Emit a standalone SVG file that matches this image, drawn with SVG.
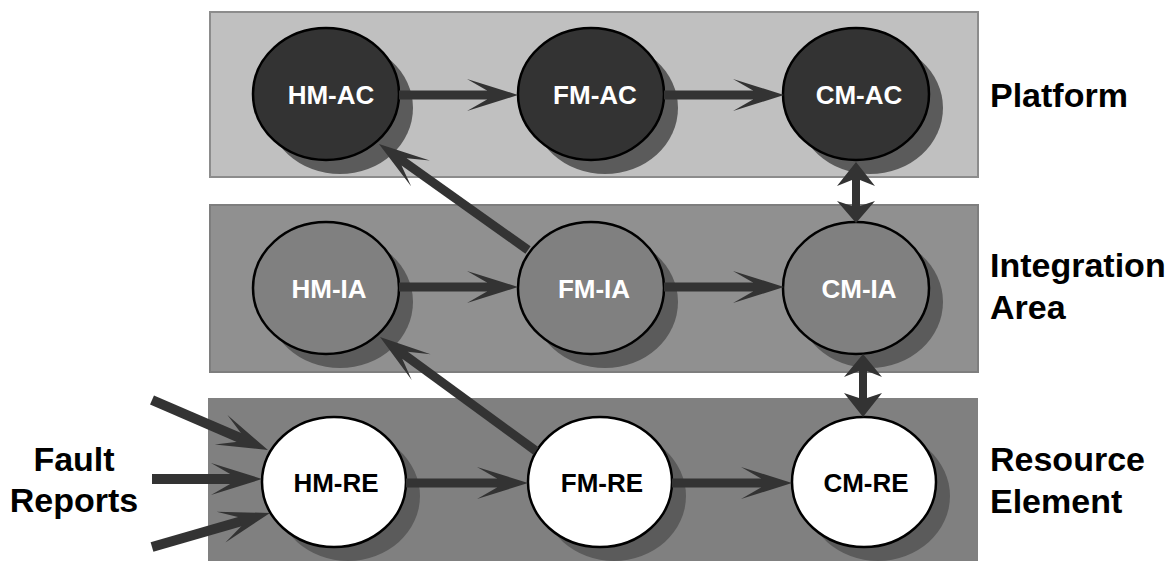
<svg xmlns="http://www.w3.org/2000/svg" width="1176" height="561" viewBox="0 0 1176 561">
  <style>
    .band-pf { fill: #c0c0c0; stroke: #8c8c8c; stroke-width: 2; }
    .band-ia { fill: #909090; stroke: #7e7e7e; stroke-width: 2; }
    .band-re { fill: #808080; }
    .shadow { fill: #5b5b5b; }
    .node { stroke: #000; stroke-width: 2.5; }
    .pf { fill: #333333; }
    .ia { fill: #808080; }
    .re { fill: #ffffff; }
    .lbl { font-family: "Liberation Sans", Arial, sans-serif; font-weight: bold; font-size: 26px; text-anchor: middle; }
    .lbl-w { fill: #ffffff; }
    .lbl-k { fill: #000000; }
    .side { font-family: "Liberation Sans", Arial, sans-serif; font-weight: bold; font-size: 34px; fill: #000; }
    .flow { stroke: #333333; stroke-width: 9; fill: none; marker-end: url(#head); }
    .fault { stroke-width: 10; }
    .dbl { fill: #333333; }
  </style>
  <defs>
    <marker id="head" markerUnits="userSpaceOnUse" markerWidth="60" markerHeight="40" viewBox="-25 -20 60 40" refX="0" refY="0" orient="auto" overflow="visible">
      <path d="M30,0 L-21,-16 L-1,-4.5 L-1,4.5 L-21,16 Z" fill="#333333"/>
    </marker>
  </defs>

  <!-- layer bands -->
  <g id="bands">
    <rect class="band-pf" x="210" y="12" width="768" height="165"/>
    <rect class="band-ia" x="210" y="205" width="768" height="167"/>
    <rect class="band-re" x="208" y="398" width="770" height="165"/>
  </g>

  <!-- Platform row -->
  <g id="HM-AC">
    <ellipse class="shadow" cx="340" cy="108" rx="73" ry="66"/>
    <ellipse class="node pf" cx="326" cy="94" rx="73" ry="66"/>
    <text class="lbl lbl-w" x="331" y="104">HM-AC</text>
  </g>
  <g id="FM-AC">
    <ellipse class="shadow" cx="605" cy="108" rx="73" ry="66"/>
    <ellipse class="node pf" cx="591" cy="94" rx="73" ry="66"/>
    <text class="lbl lbl-w" x="595" y="104">FM-AC</text>
  </g>
  <g id="CM-AC">
    <ellipse class="shadow" cx="870" cy="108" rx="73" ry="66"/>
    <ellipse class="node pf" cx="856" cy="94" rx="73" ry="66"/>
    <text class="lbl lbl-w" x="859" y="104">CM-AC</text>
  </g>

  <!-- Integration Area row -->
  <g id="HM-IA">
    <ellipse class="shadow" cx="340" cy="302" rx="73" ry="66"/>
    <ellipse class="node ia" cx="326" cy="288" rx="73" ry="66"/>
    <text class="lbl lbl-w" x="329" y="298">HM-IA</text>
  </g>
  <g id="FM-IA">
    <ellipse class="shadow" cx="605" cy="302" rx="73" ry="66"/>
    <ellipse class="node ia" cx="591" cy="288" rx="73" ry="66"/>
    <text class="lbl lbl-w" x="594" y="298">FM-IA</text>
  </g>
  <g id="CM-IA">
    <ellipse class="shadow" cx="870" cy="302" rx="73" ry="66"/>
    <ellipse class="node ia" cx="856" cy="288" rx="73" ry="66"/>
    <text class="lbl lbl-w" x="859" y="298">CM-IA</text>
  </g>

  <!-- Resource Element row -->
  <g id="HM-RE">
    <ellipse class="shadow" cx="348" cy="496" rx="72" ry="65"/>
    <ellipse class="node re" cx="334" cy="482" rx="72" ry="65"/>
    <text class="lbl lbl-k" x="336" y="492">HM-RE</text>
  </g>
  <g id="FM-RE">
    <ellipse class="shadow" cx="614" cy="496" rx="72" ry="65"/>
    <ellipse class="node re" cx="600" cy="482" rx="72" ry="65"/>
    <text class="lbl lbl-k" x="602" y="492">FM-RE</text>
  </g>
  <g id="CM-RE">
    <ellipse class="shadow" cx="878" cy="496" rx="72" ry="65"/>
    <ellipse class="node re" cx="864" cy="482" rx="72" ry="65"/>
    <text class="lbl lbl-k" x="866" y="492">CM-RE</text>
  </g>

  <!-- connectors -->
  <g id="connectors">
    <path class="flow" d="M399,95 L488,95"/>
    <path class="flow" d="M664,95 L754,95"/>
    <path class="flow" d="M399,287 L488,287"/>
    <path class="flow" d="M664,287 L754,287"/>
    <path class="flow" d="M406,483 L498,483"/>
    <path class="flow" d="M672,483 L762,483"/>
    <path class="flow" d="M528,250 L403.4,161.4"/>
    <path class="flow" d="M536,451 L404.2,354.7"/>
    <path class="flow fault" d="M152,400 L240.4,438.1"/>
    <path class="flow fault" d="M152,479 L232,479"/>
    <path class="flow fault" d="M152,547 L241.2,521.3"/>
    <polygon class="dbl" points="856,162 875,186 860,180 860,206 875,201 856,223 837,201 852,206 852,180 837,186"/>
    <polygon class="dbl" points="863,354 882,377 867,371 867,398 882,393 863,417 844,393 859,398 859,371 844,377"/>
  </g>

  <!-- side labels -->
  <g id="side-labels">
    <text class="side" x="990" y="107">Platform</text>
    <text class="side" x="990" y="277">Integration</text>
    <text class="side" x="990" y="319">Area</text>
    <text class="side" x="990" y="471">Resource</text>
    <text class="side" x="990" y="513">Element</text>
    <text class="side" x="74" y="471" text-anchor="middle">Fault</text>
    <text class="side" x="74" y="512" text-anchor="middle">Reports</text>
  </g>
</svg>
